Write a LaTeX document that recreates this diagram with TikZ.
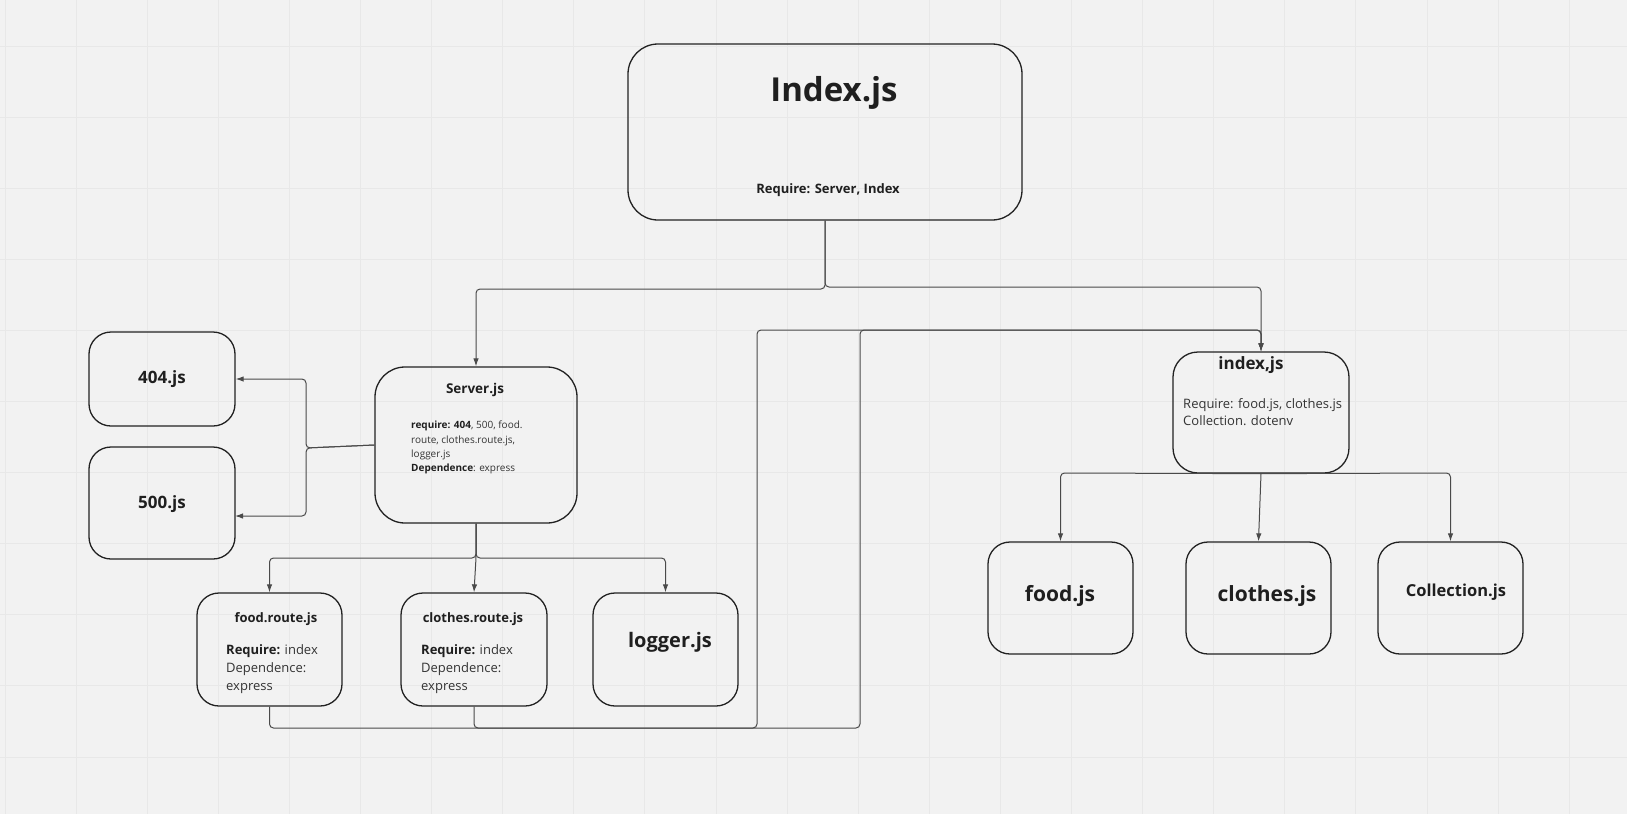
\documentclass[tikz,border=0pt]{standalone}
\usepackage{fontspec}
\setmainfont{Open Sans}
\usetikzlibrary{arrows.meta}
\definecolor{bgc}{HTML}{F2F2F2}
\definecolor{gridc}{HTML}{E8E8E8}
\definecolor{boxc}{HTML}{222222}
\definecolor{linec}{HTML}{4A4A4A}
\definecolor{txtc}{HTML}{1F1F1F}
\definecolor{bodyc}{HTML}{333333}
\newcommand\myfs[1]{\fontsize{#1}{#1}\selectfont}
\tikzset{
  box/.style={draw=boxc, line width=1.3pt, rounded corners=22pt, inner sep=0pt, fill=none},
  bigbox/.style={box, rounded corners=30pt},
  txt/.style={inner sep=0pt, text=txtc},
  body/.style={inner sep=0pt, text=bodyc, anchor=base west},
  conn/.style={draw=linec, line width=1pt, rounded corners=4pt},
  arr/.style={conn, -{Latex[length=8pt,width=5.5pt]}},
}
\begin{document}
\begin{tikzpicture}[x=1pt,y=-1pt]
\useasboundingbox (0,0) rectangle (1627,814);
\fill[bgc] (0,0) rectangle (1627,814);
\foreach \i in {0,...,22} \draw[gridc, line width=1pt] (5+71.1*\i,0) -- (5+71.1*\i,814);
\foreach \j in {0,...,10} \draw[gridc, line width=1pt] (0,46+71.1*\j) -- (1627,46+71.1*\j);

% boxes
\node[bigbox, minimum width=394pt, minimum height=176pt] (main) at (825,132) {};
\node[bigbox, minimum width=202pt, minimum height=156pt] (srv) at (476,445) {};
\node[box, minimum width=146pt, minimum height=94pt] (e404) at (162,379) {};
\node[box, minimum width=146pt, minimum height=112pt] (e500) at (162,503) {};
\node[box, minimum width=145pt, minimum height=113pt] (fr) at (269.5,649.5) {};
\node[box, minimum width=146pt, minimum height=113pt] (cr) at (474,649.5) {};
\node[box, minimum width=145pt, minimum height=113pt] (lg) at (665.5,649.5) {};
\node[box, rounded corners=25pt, minimum width=176pt, minimum height=121pt] (ij) at (1261,412.5) {};
\node[box, minimum width=145pt, minimum height=112pt] (fj) at (1060.5,598) {};
\node[box, minimum width=145pt, minimum height=112pt] (cj) at (1258.5,598) {};
\node[box, minimum width=145pt, minimum height=112pt] (co) at (1450.5,598) {};

% texts
\node[txt, anchor=base, font=\myfs{33}\bfseries] (t1) at (834,101) {Index.js};
\node[txt, anchor=base, font=\myfs{13}\bfseries] (t2) at (828,193) {Require: Server, Index};

\node[txt, anchor=base, font=\myfs{13.5}\bfseries] (t3) at (475,393) {Server.js};
\node[body, font=\myfs{10}] (t4) at (411,428) {\textbf{\color{txtc}require: 404}, 500, food.};
\node[body, font=\myfs{10}] (t5) at (411,443) {route, clothes.route.js,};
\node[body, font=\myfs{10}] (t6) at (411,457) {logger.js};
\node[body, font=\myfs{10}] (t7) at (411,471) {\textbf{\color{txtc}Dependence}: express};

\node[txt, anchor=base, font=\myfs{17}\bfseries] (t8) at (162,383) {404.js};
\node[txt, anchor=base, font=\myfs{17}\bfseries] (t9) at (162,508) {500.js};

\node[txt, anchor=base, font=\myfs{13}\bfseries] (t10) at (276,622) {food.route.js};
\node[body, font=\myfs{13}] (t11) at (226,654) {\textbf{\color{txtc}Require:} index};
\node[body, font=\myfs{13}] (t12) at (226,672) {Dependence:};
\node[body, font=\myfs{13}] (t13) at (226,690) {express};

\node[txt, anchor=base, font=\myfs{13}\bfseries] (t14) at (473,622) {clothes.route.js};
\node[body, font=\myfs{13}] (t15) at (421,654) {\textbf{\color{txtc}Require:} index};
\node[body, font=\myfs{13}] (t16) at (421,672) {Dependence:};
\node[body, font=\myfs{13}] (t17) at (421,690) {express};

\node[txt, anchor=base, font=\myfs{20}\bfseries] (t18) at (670,647) {logger.js};

\node[txt, anchor=base, font=\myfs{17}\bfseries] (t19) at (1251,369) {index,js};
\node[body, font=\myfs{13}] (t20) at (1183,408) {Require: food.js, clothes.js};
\node[body, font=\myfs{13}] (t21) at (1183,425) {Collection. dotenv};

\node[txt, anchor=base, font=\myfs{21}\bfseries] (t22) at (1060,601) {food.js};
\node[txt, anchor=base, font=\myfs{21}\bfseries] (t23) at (1267,601) {clothes.js};
\node[txt, anchor=base, font=\myfs{16.5}\bfseries] (t24) at (1456,596) {Collection.js};

% connectors
\draw[arr] (main.south) -- (825,287) -- (1261,287) -- (ij.north);
\draw[arr] (main.south) -- (825,289) -- (476,289) -- (srv.north);

\draw[arr] (srv.west) -- (306,448) -- (306,379) -- (e404.east);
\coordinate (e500in) at (235,516);
\draw[arr] (srv.west) -- (306,448) -- (306,516) -- (e500in);

\draw[arr] (srv.south) -- (476,558) -- (269.5,558) -- (fr.north);
\draw[arr] (srv.south) -- (476,558) -- (cr.north);
\draw[arr] (srv.south) -- (476,558) -- (665.5,558) -- (lg.north);

\draw[arr] (fr.south) -- (269.5,728) -- (757,728) -- (757,330) -- (1261,330) -- (ij.north);
\draw[arr] (cr.south) -- (474,728) -- (860,728) -- (860,330) -- (1261,330) -- (ij.north);

\draw[arr] (ij.south) -- (1060.5,473) -- (fj.north);
\draw[arr] (ij.south) -- (cj.north);
\draw[arr] (ij.south) -- (1450.5,473) -- (co.north);
\end{tikzpicture}
\end{document}
